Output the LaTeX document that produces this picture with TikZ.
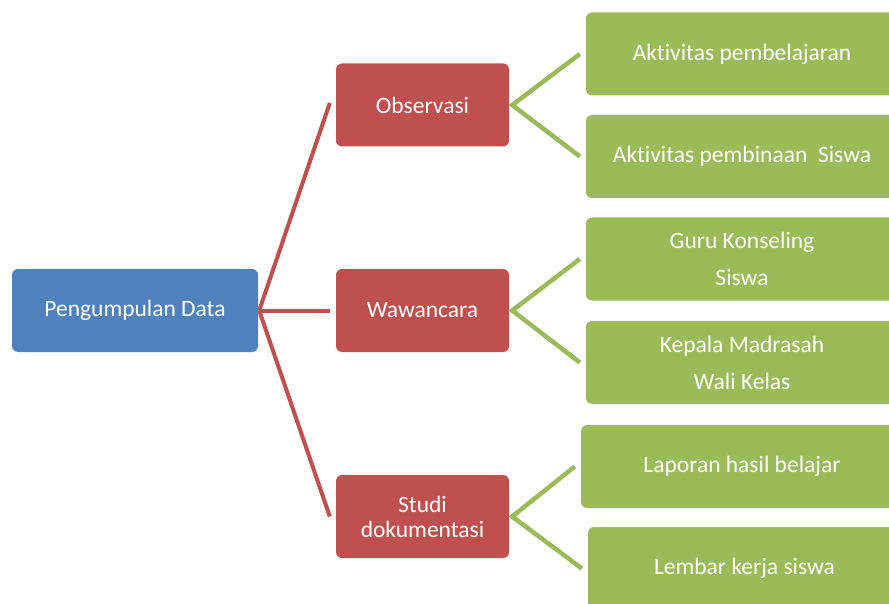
\documentclass[tikz,border=0pt]{standalone}
\usepackage{fontspec}
\setmainfont{Carlito}[Ligatures=NoCommon]
\usetikzlibrary{positioning}
\definecolor{rootblue}{HTML}{4F81BD}
\definecolor{midred}{HTML}{C0504D}
\definecolor{leafgreen}{HTML}{9BBB59}
\begin{document}
\begin{tikzpicture}[line cap=butt,line join=miter,x=1pt,y=-1pt,
  box/.style={rounded corners=6pt,text=white,align=center,inner sep=0pt,
    font=\fontsize{23.5}{25}\selectfont,minimum height=83pt},
  rootbox/.style={box,fill=rootblue,minimum width=246pt},
  midbox/.style={box,fill=midred,minimum width=173pt},
  leafbox/.style={box,fill=leafgreen},
  redline/.style={midred,line width=4pt},
  greenline/.style={leafgreen,line width=4.5pt}]
			\useasboundingbox (0,0) rectangle (889,604);
			\clip (0,0) rectangle (889,604);
			\node[rootbox] (root) at (135,310.5) {Pengumpulan Data};
			\node[midbox] (obs) at (422.5,105) {Observasi};
			\node[midbox] (waw) at (422.5,310.5) {Wawancara};
			\node[midbox] (stu) at (422.5,516.5) {Studi\\dokumentasi};
			\node[leafbox,minimum width=312pt] (akt1) at (742,54) {Aktivitas pembelajaran};
			\node[leafbox,minimum width=312pt] (akt2) at (742,156.5) {Aktivitas pembinaan\ \ Siswa};
			\node[leafbox,minimum width=312pt] (guru) at (742,259) {Guru Konseling\\[12pt]Siswa};
			\node[leafbox,minimum width=312pt] (kep) at (742,362.5) {Kepala Madrasah\\[12pt]Wali Kelas};
			\node[leafbox,minimum width=322pt] (lap) at (742,466.5) {Laporan hasil belajar};
			\node[leafbox,minimum width=313pt] (lem) at (744.5,568.5) {Lembar kerja siswa};
			\draw [redline] ([xshift=1pt]root.east) -- ([xshift=-6pt,yshift=2pt]obs.west);
			\draw [redline] ([xshift=1pt]root.east) -- ([xshift=-6pt]waw.west);
			\draw [redline] ([xshift=1pt]root.east) -- ([xshift=-6pt]stu.west);
			\draw [greenline] ([xshift=-6pt]akt1.west) -- ([xshift=3pt]obs.east) -- ([xshift=-6pt]akt2.west);
			\draw [greenline] ([xshift=-6pt]guru.west) -- ([xshift=3pt]waw.east) -- ([xshift=-6pt]kep.west);
			\draw [greenline] ([xshift=-6pt]lap.west) -- ([xshift=3pt]stu.east) -- ([xshift=-6pt]lem.west);
\end{tikzpicture}
\end{document}
